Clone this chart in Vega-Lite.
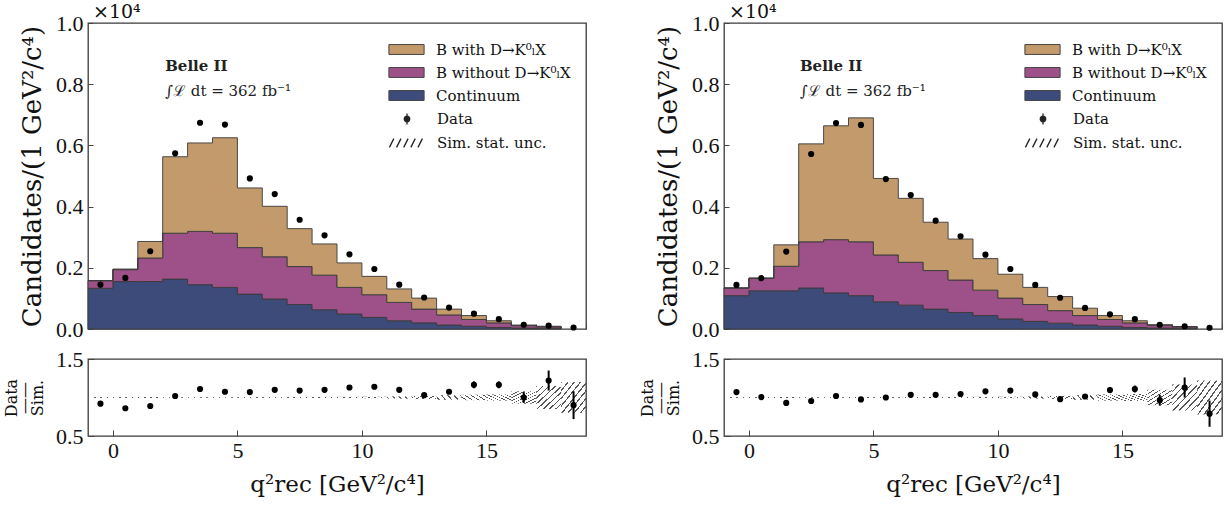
{
  "$schema": "https://vega.github.io/schema/vega-lite/v6.json",
  "padding": {"left": 2, "top": 2, "right": 0, "bottom": 0},
  "datasets": {
    "hist": [
      {"p":"L","lo":-1,"a":0.133,"b":0.025,"c":0.0},
      {"p":"L","lo":0,"a":0.155,"b":0.039,"c":0.002},
      {"p":"L","lo":1,"a":0.155,"b":0.077,"c":0.054},
      {"p":"L","lo":2,"a":0.163,"b":0.150,"c":0.250},
      {"p":"L","lo":3,"a":0.145,"b":0.174,"c":0.289},
      {"p":"L","lo":4,"a":0.136,"b":0.177,"c":0.312},
      {"p":"L","lo":5,"a":0.114,"b":0.152,"c":0.195},
      {"p":"L","lo":6,"a":0.098,"b":0.138,"c":0.165},
      {"p":"L","lo":7,"a":0.080,"b":0.124,"c":0.124},
      {"p":"L","lo":8,"a":0.063,"b":0.113,"c":0.102},
      {"p":"L","lo":9,"a":0.049,"b":0.087,"c":0.080},
      {"p":"L","lo":10,"a":0.038,"b":0.074,"c":0.060},
      {"p":"L","lo":11,"a":0.027,"b":0.060,"c":0.044},
      {"p":"L","lo":12,"a":0.020,"b":0.045,"c":0.036},
      {"p":"L","lo":13,"a":0.013,"b":0.033,"c":0.019},
      {"p":"L","lo":14,"a":0.009,"b":0.022,"c":0.013},
      {"p":"L","lo":15,"a":0.005,"b":0.015,"c":0.007},
      {"p":"L","lo":16,"a":0.003,"b":0.008,"c":0.002},
      {"p":"L","lo":17,"a":0.002,"b":0.005,"c":0.002},
      {"p":"L","lo":18,"a":0.001,"b":0.002,"c":0.001},
      {"p":"R","lo":-1,"a":0.109,"b":0.025,"c":0.0},
      {"p":"R","lo":0,"a":0.125,"b":0.041,"c":0.0},
      {"p":"R","lo":1,"a":0.125,"b":0.080,"c":0.070},
      {"p":"R","lo":2,"a":0.134,"b":0.151,"c":0.320},
      {"p":"R","lo":3,"a":0.118,"b":0.174,"c":0.372},
      {"p":"R","lo":4,"a":0.109,"b":0.176,"c":0.405},
      {"p":"R","lo":5,"a":0.089,"b":0.153,"c":0.250},
      {"p":"R","lo":6,"a":0.078,"b":0.140,"c":0.209},
      {"p":"R","lo":7,"a":0.065,"b":0.126,"c":0.158},
      {"p":"R","lo":8,"a":0.054,"b":0.106,"c":0.134},
      {"p":"R","lo":9,"a":0.044,"b":0.083,"c":0.103},
      {"p":"R","lo":10,"a":0.033,"b":0.068,"c":0.078},
      {"p":"R","lo":11,"a":0.025,"b":0.055,"c":0.056},
      {"p":"R","lo":12,"a":0.019,"b":0.041,"c":0.046},
      {"p":"R","lo":13,"a":0.013,"b":0.031,"c":0.024},
      {"p":"R","lo":14,"a":0.009,"b":0.022,"c":0.013},
      {"p":"R","lo":15,"a":0.005,"b":0.015,"c":0.007},
      {"p":"R","lo":16,"a":0.003,"b":0.009,"c":0.002},
      {"p":"R","lo":17,"a":0.002,"b":0.005,"c":0.001},
      {"p":"R","lo":18,"a":0.001,"b":0.002,"c":0.0}
    ],
    "pts": [
      {"p":"L","lo":-1,"hi":0,"c":-0.5,"v":0.145,"r":0.92,"re":0.012,"ul":0.994,"uh":1.006},
      {"p":"L","lo":0,"hi":1,"c":0.5,"v":0.167,"r":0.86,"re":0.012,"ul":0.994,"uh":1.006},
      {"p":"L","lo":1,"hi":2,"c":1.5,"v":0.254,"r":0.89,"re":0.01,"ul":0.994,"uh":1.006},
      {"p":"L","lo":2,"hi":3,"c":2.5,"v":0.574,"r":1.02,"re":0.008,"ul":0.995,"uh":1.005},
      {"p":"L","lo":3,"hi":4,"c":3.5,"v":0.674,"r":1.11,"re":0.008,"ul":0.995,"uh":1.005},
      {"p":"L","lo":4,"hi":5,"c":4.5,"v":0.668,"r":1.075,"re":0.008,"ul":0.995,"uh":1.005},
      {"p":"L","lo":5,"hi":6,"c":5.5,"v":0.492,"r":1.07,"re":0.008,"ul":0.994,"uh":1.006},
      {"p":"L","lo":6,"hi":7,"c":6.5,"v":0.441,"r":1.10,"re":0.008,"ul":0.994,"uh":1.006},
      {"p":"L","lo":7,"hi":8,"c":7.5,"v":0.357,"r":1.09,"re":0.009,"ul":0.993,"uh":1.007},
      {"p":"L","lo":8,"hi":9,"c":8.5,"v":0.306,"r":1.10,"re":0.01,"ul":0.993,"uh":1.007},
      {"p":"L","lo":9,"hi":10,"c":9.5,"v":0.244,"r":1.13,"re":0.012,"ul":0.992,"uh":1.008},
      {"p":"L","lo":10,"hi":11,"c":10.5,"v":0.196,"r":1.14,"re":0.014,"ul":0.99,"uh":1.01},
      {"p":"L","lo":11,"hi":12,"c":11.5,"v":0.145,"r":1.10,"re":0.016,"ul":0.986,"uh":1.014},
      {"p":"L","lo":12,"hi":13,"c":12.5,"v":0.103,"r":1.03,"re":0.02,"ul":0.98,"uh":1.02},
      {"p":"L","lo":13,"hi":14,"c":13.5,"v":0.070,"r":1.075,"re":0.025,"ul":0.97,"uh":1.03},
      {"p":"L","lo":14,"hi":15,"c":14.5,"v":0.050,"r":1.165,"re":0.045,"ul":0.965,"uh":1.035},
      {"p":"L","lo":15,"hi":16,"c":15.5,"v":0.032,"r":1.165,"re":0.045,"ul":0.96,"uh":1.04},
      {"p":"L","lo":16,"hi":17,"c":16.5,"v":0.014,"r":1.00,"re":0.07,"ul":0.92,"uh":1.08},
      {"p":"L","lo":17,"hi":18,"c":17.5,"v":0.011,"r":1.22,"re":0.13,"ul":0.85,"uh":1.15},
      {"p":"L","lo":18,"hi":19,"c":18.5,"v":0.005,"r":0.90,"re":0.18,"ul":0.80,"uh":1.20},
      {"p":"R","lo":-1,"hi":0,"c":-0.5,"v":0.144,"r":1.07,"re":0.012,"ul":0.994,"uh":1.006},
      {"p":"R","lo":0,"hi":1,"c":0.5,"v":0.166,"r":1.005,"re":0.012,"ul":0.994,"uh":1.006},
      {"p":"R","lo":1,"hi":2,"c":1.5,"v":0.253,"r":0.93,"re":0.01,"ul":0.994,"uh":1.006},
      {"p":"R","lo":2,"hi":3,"c":2.5,"v":0.572,"r":0.955,"re":0.008,"ul":0.995,"uh":1.005},
      {"p":"R","lo":3,"hi":4,"c":3.5,"v":0.673,"r":1.02,"re":0.008,"ul":0.995,"uh":1.005},
      {"p":"R","lo":4,"hi":5,"c":4.5,"v":0.667,"r":0.975,"re":0.008,"ul":0.995,"uh":1.005},
      {"p":"R","lo":5,"hi":6,"c":5.5,"v":0.490,"r":1.0,"re":0.008,"ul":0.994,"uh":1.006},
      {"p":"R","lo":6,"hi":7,"c":6.5,"v":0.438,"r":1.035,"re":0.008,"ul":0.994,"uh":1.006},
      {"p":"R","lo":7,"hi":8,"c":7.5,"v":0.354,"r":1.035,"re":0.009,"ul":0.993,"uh":1.007},
      {"p":"R","lo":8,"hi":9,"c":8.5,"v":0.303,"r":1.045,"re":0.01,"ul":0.993,"uh":1.007},
      {"p":"R","lo":9,"hi":10,"c":9.5,"v":0.243,"r":1.08,"re":0.012,"ul":0.992,"uh":1.008},
      {"p":"R","lo":10,"hi":11,"c":10.5,"v":0.196,"r":1.09,"re":0.014,"ul":0.99,"uh":1.01},
      {"p":"R","lo":11,"hi":12,"c":11.5,"v":0.144,"r":1.04,"re":0.016,"ul":0.986,"uh":1.014},
      {"p":"R","lo":12,"hi":13,"c":12.5,"v":0.102,"r":0.978,"re":0.02,"ul":0.98,"uh":1.02},
      {"p":"R","lo":13,"hi":14,"c":13.5,"v":0.069,"r":1.013,"re":0.025,"ul":0.97,"uh":1.03},
      {"p":"R","lo":14,"hi":15,"c":14.5,"v":0.048,"r":1.097,"re":0.04,"ul":0.96,"uh":1.04},
      {"p":"R","lo":15,"hi":16,"c":15.5,"v":0.032,"r":1.11,"re":0.045,"ul":0.955,"uh":1.045},
      {"p":"R","lo":16,"hi":17,"c":16.5,"v":0.014,"r":0.965,"re":0.07,"ul":0.90,"uh":1.10},
      {"p":"R","lo":17,"hi":18,"c":17.5,"v":0.009,"r":1.13,"re":0.13,"ul":0.83,"uh":1.17},
      {"p":"R","lo":18,"hi":19,"c":18.5,"v":0.004,"r":0.79,"re":0.17,"ul":0.78,"uh":1.22}
    ],
    "legA": [
      {"k":"B with D→K⁰ₗX"},
      {"k":"B without D→K⁰ₗX"},
      {"k":"Continuum"}
    ],
    "legB": [
      {"k":"Data"},
      {"k":"Sim. stat. unc.     "}
    ]
  },
  "resolve": {"scale": {"color": "independent", "fill": "independent", "shape": "independent", "stroke": "independent"}},
  "spacing": 50,
  "hconcat": [
    {
      "spacing": 6,
      "resolve": {"scale": {"color": "independent", "fill": "independent", "shape": "independent", "stroke": "independent"}},
      "vconcat": [
        {
          "width": 498, "height": 306,
          "layer": [
            {
              "data": {"name": "hist"},
              "transform": [
                {"filter": "datum.p == 'L'"},
                {"fold": ["a", "b", "c"], "as": ["comp", "n"]},
                {"stack": "n", "groupby": ["lo"], "sort": [{"field": "comp", "order": "ascending"}], "as": ["y0", "y1"]}
              ],
              "mark": {"type": "area", "interpolate": "step-after", "stroke": "#3a3a3a", "strokeWidth": 0.9},
              "encoding": {
                "x": {"field": "lo", "type": "quantitative", "scale": {"domain": [-1, 19], "nice": false, "zero": false},
                  "axis": {"values": [-1,0,1,2,3,4,5,6,7,8,9,10,11,12,13,14,15,16,17,18,19], "labels": false, "title": null, "tickSize": -5}},
                "y": {"field": "y1", "type": "quantitative", "scale": {"domain": [0, 1], "nice": false},
                  "axis": {"values": [0,0.05,0.1,0.15,0.2,0.25,0.3,0.35,0.4,0.45,0.5,0.55,0.6,0.65,0.7,0.75,0.8,0.85,0.9,0.95,1],
                    "labelExpr": "abs(datum.value*5 - round(datum.value*5)) < 0.001 ? format(datum.value, '.1f') : ''",
                    "tickSize": -5, "labelPadding": 10, "title": "Candidates/(1 GeV²/c⁴)", "titleFontSize": 26, "titlePadding": 10}},
                "y2": {"field": "y0"},
                "fill": {"field": "comp", "type": "nominal", "scale": {"domain": ["c", "b", "a"], "range": ["#C39A6B", "#9E5189", "#3D4B7A"]}, "legend": null}
              }
            },
            {
              "data": {"name": "pts"},
              "transform": [{"filter": "datum.p == 'L'"}],
              "mark": {"type": "point", "filled": true, "color": "black", "size": 38, "opacity": 1},
              "encoding": {
                "x": {"field": "c", "type": "quantitative"},
                "y": {"field": "v", "type": "quantitative"}
              }
            },
            {
              "data": {"values": [{"t": "×10⁴"}]},
              "mark": {"type": "text", "align": "left", "baseline": "bottom", "dx": 5, "dy": -1, "font": "DejaVu Serif", "fontSize": 19, "color": "#111"},
              "encoding": {"x": {"datum": -1, "type": "quantitative"}, "y": {"datum": 1, "type": "quantitative"}, "text": {"field": "t"}}
            },
            {
              "data": {"values": [{"t": "Belle II"}]},
              "mark": {"type": "text", "align": "left", "baseline": "middle", "font": "DejaVu Serif", "fontWeight": "bold", "fontSize": 15, "color": "#222"},
              "encoding": {"x": {"datum": 2.1, "type": "quantitative"}, "y": {"datum": 0.86, "type": "quantitative"}, "text": {"field": "t"}}
            },
            {
              "data": {"values": [{"t": "∫ℒ dt = 362 fb⁻¹"}]},
              "mark": {"type": "text", "align": "left", "baseline": "middle", "font": "DejaVu Serif", "fontSize": 15, "color": "#222"},
              "encoding": {"x": {"datum": 2.1, "type": "quantitative"}, "y": {"datum": 0.778, "type": "quantitative"}, "text": {"field": "t"}}
            },
            {
              "data": {"name": "legA"},
              "mark": {"type": "point", "filled": true, "opacity": 0},
              "encoding": {
                "color": {"field": "k", "type": "nominal", "scale": {"domain": ["B with D→K⁰ₗX", "B without D→K⁰ₗX", "Continuum"], "range": ["#C39A6B", "#9E5189", "#3D4B7A"]},
                  "legend": {"orient": "top-right", "offset": 15, "title": null, "symbolSize": 484, "symbolStrokeWidth": 1, "symbolStrokeColor": "#444444",
                    "symbolType": "M-1.6,-0.45H1.6V0.45H-1.6Z",
                    "labelFont": "DejaVu Serif", "labelFontSize": 15, "labelColor": "#111", "labelOffset": 18, "rowPadding": 3, "padding": 0, "labelLimit": 300}}
              }
            },
            {
              "data": {"name": "legB"},
              "mark": {"type": "point", "filled": false, "opacity": 0, "color": "#333333", "strokeWidth": 1.3},
              "encoding": {
                "shape": {"field": "k", "type": "nominal", "scale": {"domain": ["Data", "Sim. stat. unc.     "], "range": ["M0,-0.5V0.5M-0.25,0A0.25,0.25,0,1,0,0.25,0A0.25,0.25,0,1,0,-0.25,0M-0.16,0A0.16,0.16,0,1,0,0.16,0A0.16,0.16,0,1,0,-0.16,0M-0.07,0A0.07,0.07,0,1,0,0.07,0A0.07,0.07,0,1,0,-0.07,0", "M-1.6,0.4L-1.2,-0.4M-0.95,0.4L-0.55,-0.4M-0.3,0.4L0.1,-0.4M0.35,0.4L0.75,-0.4M1.0,0.4L1.4,-0.4"]},
                  "legend": {"orient": "top-right", "offset": 15, "title": null, "symbolSize": 484, "symbolStrokeWidth": 1.3, "symbolStrokeColor": "#222222",
                    "labelFont": "DejaVu Serif", "labelFontSize": 15, "labelColor": "#111", "labelOffset": 18, "rowPadding": 3, "padding": 0, "labelLimit": 300}}
              }
            }
          ]
        },
        {
          "width": 498, "height": 77,
          "layer": [
            {
              "data": {"name": "pts"},
              "transform": [{"filter": "datum.p == 'L'"}],
              "mark": {"type": "rect", "strokeWidth": 0, "fill": {"gradient": "linear", "x1": 0, "y1": 0, "x2": 1, "y2": 1, "stops": [
                {"offset": 0, "color": "#555555"}, {"offset": 0.03, "color": "#555555"}, {"offset": 0.03, "color": "rgba(0,0,0,0)"}, {"offset": 0.125, "color": "rgba(0,0,0,0)"},
                {"offset": 0.125, "color": "#555555"}, {"offset": 0.155, "color": "#555555"}, {"offset": 0.155, "color": "rgba(0,0,0,0)"}, {"offset": 0.25, "color": "rgba(0,0,0,0)"},
                {"offset": 0.25, "color": "#555555"}, {"offset": 0.28, "color": "#555555"}, {"offset": 0.28, "color": "rgba(0,0,0,0)"}, {"offset": 0.375, "color": "rgba(0,0,0,0)"},
                {"offset": 0.375, "color": "#555555"}, {"offset": 0.405, "color": "#555555"}, {"offset": 0.405, "color": "rgba(0,0,0,0)"}, {"offset": 0.5, "color": "rgba(0,0,0,0)"},
                {"offset": 0.5, "color": "#555555"}, {"offset": 0.53, "color": "#555555"}, {"offset": 0.53, "color": "rgba(0,0,0,0)"}, {"offset": 0.625, "color": "rgba(0,0,0,0)"},
                {"offset": 0.625, "color": "#555555"}, {"offset": 0.655, "color": "#555555"}, {"offset": 0.655, "color": "rgba(0,0,0,0)"}, {"offset": 0.75, "color": "rgba(0,0,0,0)"},
                {"offset": 0.75, "color": "#555555"}, {"offset": 0.78, "color": "#555555"}, {"offset": 0.78, "color": "rgba(0,0,0,0)"}, {"offset": 0.875, "color": "rgba(0,0,0,0)"},
                {"offset": 0.875, "color": "#555555"}, {"offset": 0.905, "color": "#555555"}, {"offset": 0.905, "color": "rgba(0,0,0,0)"}, {"offset": 1, "color": "rgba(0,0,0,0)"}]}},
              "encoding": {
                "x": {"field": "lo", "type": "quantitative", "scale": {"domain": [-1, 19], "nice": false, "zero": false},
                  "axis": {"values": [0, 5, 10, 15], "format": "d",
                    "tickSize": -6, "labelPadding": 10, "title": "q²rec  [GeV²/c⁴]", "titleFontSize": 23, "titlePadding": 12}},
                "x2": {"field": "hi"},
                "y": {"field": "ul", "type": "quantitative", "scale": {"domain": [0.5, 1.5], "nice": false, "zero": false},
                  "axis": {"values": [0.5, 1.0, 1.5], "format": ".1f",
                    "tickSize": -6, "labelPadding": 11, "title": ["Data", "——", "Sim."], "titleFontSize": 16, "titleLineHeight": 13, "titlePadding": 10}},
                "y2": {"field": "uh"}
              }
            },
            {
              "mark": {"type": "rule", "strokeDash": [7, 4], "color": "#222222", "strokeWidth": 1.6},
              "encoding": {"y": {"datum": 1, "type": "quantitative"}}
            },
            {
              "data": {"name": "pts"},
              "transform": [{"filter": "datum.p == 'L'"}],
              "mark": {"type": "errorbar", "color": "black", "thickness": 2},
              "encoding": {
                "x": {"field": "c", "type": "quantitative", "title": "q²rec  [GeV²/c⁴]"},
                "y": {"field": "r", "type": "quantitative", "title": ["Data", "——", "Sim."]},
                "yError": {"field": "re"}
              }
            },
            {
              "data": {"name": "pts"},
              "transform": [{"filter": "datum.p == 'L'"}],
              "mark": {"type": "point", "filled": true, "color": "black", "size": 38, "opacity": 1},
              "encoding": {
                "x": {"field": "c", "type": "quantitative"},
                "y": {"field": "r", "type": "quantitative"}
              }
            }
          ]
        }
      ]
    },
    {
      "spacing": 6,
      "resolve": {"scale": {"color": "independent", "fill": "independent", "shape": "independent", "stroke": "independent"}},
      "vconcat": [
        {
          "width": 498, "height": 306,
          "layer": [
            {
              "data": {"name": "hist"},
              "transform": [
                {"filter": "datum.p == 'R'"},
                {"fold": ["a", "b", "c"], "as": ["comp", "n"]},
                {"stack": "n", "groupby": ["lo"], "sort": [{"field": "comp", "order": "ascending"}], "as": ["y0", "y1"]}
              ],
              "mark": {"type": "area", "interpolate": "step-after", "stroke": "#3a3a3a", "strokeWidth": 0.9},
              "encoding": {
                "x": {"field": "lo", "type": "quantitative", "scale": {"domain": [-1, 19], "nice": false, "zero": false},
                  "axis": {"values": [-1,0,1,2,3,4,5,6,7,8,9,10,11,12,13,14,15,16,17,18,19], "labels": false, "title": null, "tickSize": -5}},
                "y": {"field": "y1", "type": "quantitative", "scale": {"domain": [0, 1], "nice": false},
                  "axis": {"values": [0,0.05,0.1,0.15,0.2,0.25,0.3,0.35,0.4,0.45,0.5,0.55,0.6,0.65,0.7,0.75,0.8,0.85,0.9,0.95,1],
                    "labelExpr": "abs(datum.value*5 - round(datum.value*5)) < 0.001 ? format(datum.value, '.1f') : ''",
                    "tickSize": -5, "labelPadding": 10, "title": "Candidates/(1 GeV²/c⁴)", "titleFontSize": 26, "titlePadding": 10}},
                "y2": {"field": "y0"},
                "fill": {"field": "comp", "type": "nominal", "scale": {"domain": ["c", "b", "a"], "range": ["#C39A6B", "#9E5189", "#3D4B7A"]}, "legend": null}
              }
            },
            {
              "data": {"name": "pts"},
              "transform": [{"filter": "datum.p == 'R'"}],
              "mark": {"type": "point", "filled": true, "color": "black", "size": 38, "opacity": 1},
              "encoding": {
                "x": {"field": "c", "type": "quantitative"},
                "y": {"field": "v", "type": "quantitative"}
              }
            },
            {
              "data": {"values": [{"t": "×10⁴"}]},
              "mark": {"type": "text", "align": "left", "baseline": "bottom", "dx": 5, "dy": -1, "font": "DejaVu Serif", "fontSize": 19, "color": "#111"},
              "encoding": {"x": {"datum": -1, "type": "quantitative"}, "y": {"datum": 1, "type": "quantitative"}, "text": {"field": "t"}}
            },
            {
              "data": {"values": [{"t": "Belle II"}]},
              "mark": {"type": "text", "align": "left", "baseline": "middle", "font": "DejaVu Serif", "fontWeight": "bold", "fontSize": 15, "color": "#222"},
              "encoding": {"x": {"datum": 2.05, "type": "quantitative"}, "y": {"datum": 0.86, "type": "quantitative"}, "text": {"field": "t"}}
            },
            {
              "data": {"values": [{"t": "∫ℒ dt = 362 fb⁻¹"}]},
              "mark": {"type": "text", "align": "left", "baseline": "middle", "font": "DejaVu Serif", "fontSize": 15, "color": "#222"},
              "encoding": {"x": {"datum": 2.05, "type": "quantitative"}, "y": {"datum": 0.778, "type": "quantitative"}, "text": {"field": "t"}}
            },
            {
              "data": {"name": "legA"},
              "mark": {"type": "point", "filled": true, "opacity": 0},
              "encoding": {
                "color": {"field": "k", "type": "nominal", "scale": {"domain": ["B with D→K⁰ₗX", "B without D→K⁰ₗX", "Continuum"], "range": ["#C39A6B", "#9E5189", "#3D4B7A"]},
                  "legend": {"orient": "top-right", "offset": 15, "title": null, "symbolSize": 484, "symbolStrokeWidth": 1, "symbolStrokeColor": "#444444",
                    "symbolType": "M-1.6,-0.45H1.6V0.45H-1.6Z",
                    "labelFont": "DejaVu Serif", "labelFontSize": 15, "labelColor": "#111", "labelOffset": 18, "rowPadding": 3, "padding": 0, "labelLimit": 300}}
              }
            },
            {
              "data": {"name": "legB"},
              "mark": {"type": "point", "filled": false, "opacity": 0, "color": "#333333", "strokeWidth": 1.3},
              "encoding": {
                "shape": {"field": "k", "type": "nominal", "scale": {"domain": ["Data", "Sim. stat. unc.     "], "range": ["M0,-0.5V0.5M-0.25,0A0.25,0.25,0,1,0,0.25,0A0.25,0.25,0,1,0,-0.25,0M-0.16,0A0.16,0.16,0,1,0,0.16,0A0.16,0.16,0,1,0,-0.16,0M-0.07,0A0.07,0.07,0,1,0,0.07,0A0.07,0.07,0,1,0,-0.07,0", "M-1.6,0.4L-1.2,-0.4M-0.95,0.4L-0.55,-0.4M-0.3,0.4L0.1,-0.4M0.35,0.4L0.75,-0.4M1.0,0.4L1.4,-0.4"]},
                  "legend": {"orient": "top-right", "offset": 15, "title": null, "symbolSize": 484, "symbolStrokeWidth": 1.3, "symbolStrokeColor": "#222222",
                    "labelFont": "DejaVu Serif", "labelFontSize": 15, "labelColor": "#111", "labelOffset": 18, "rowPadding": 3, "padding": 0, "labelLimit": 300}}
              }
            }
          ]
        },
        {
          "width": 498, "height": 77,
          "layer": [
            {
              "data": {"name": "pts"},
              "transform": [{"filter": "datum.p == 'R'"}],
              "mark": {"type": "rect", "strokeWidth": 0, "fill": {"gradient": "linear", "x1": 0, "y1": 0, "x2": 1, "y2": 1, "stops": [
                {"offset": 0, "color": "#555555"}, {"offset": 0.03, "color": "#555555"}, {"offset": 0.03, "color": "rgba(0,0,0,0)"}, {"offset": 0.125, "color": "rgba(0,0,0,0)"},
                {"offset": 0.125, "color": "#555555"}, {"offset": 0.155, "color": "#555555"}, {"offset": 0.155, "color": "rgba(0,0,0,0)"}, {"offset": 0.25, "color": "rgba(0,0,0,0)"},
                {"offset": 0.25, "color": "#555555"}, {"offset": 0.28, "color": "#555555"}, {"offset": 0.28, "color": "rgba(0,0,0,0)"}, {"offset": 0.375, "color": "rgba(0,0,0,0)"},
                {"offset": 0.375, "color": "#555555"}, {"offset": 0.405, "color": "#555555"}, {"offset": 0.405, "color": "rgba(0,0,0,0)"}, {"offset": 0.5, "color": "rgba(0,0,0,0)"},
                {"offset": 0.5, "color": "#555555"}, {"offset": 0.53, "color": "#555555"}, {"offset": 0.53, "color": "rgba(0,0,0,0)"}, {"offset": 0.625, "color": "rgba(0,0,0,0)"},
                {"offset": 0.625, "color": "#555555"}, {"offset": 0.655, "color": "#555555"}, {"offset": 0.655, "color": "rgba(0,0,0,0)"}, {"offset": 0.75, "color": "rgba(0,0,0,0)"},
                {"offset": 0.75, "color": "#555555"}, {"offset": 0.78, "color": "#555555"}, {"offset": 0.78, "color": "rgba(0,0,0,0)"}, {"offset": 0.875, "color": "rgba(0,0,0,0)"},
                {"offset": 0.875, "color": "#555555"}, {"offset": 0.905, "color": "#555555"}, {"offset": 0.905, "color": "rgba(0,0,0,0)"}, {"offset": 1, "color": "rgba(0,0,0,0)"}]}},
              "encoding": {
                "x": {"field": "lo", "type": "quantitative", "scale": {"domain": [-1, 19], "nice": false, "zero": false},
                  "axis": {"values": [0, 5, 10, 15], "format": "d",
                    "tickSize": -6, "labelPadding": 10, "title": "q²rec  [GeV²/c⁴]", "titleFontSize": 23, "titlePadding": 12}},
                "x2": {"field": "hi"},
                "y": {"field": "ul", "type": "quantitative", "scale": {"domain": [0.5, 1.5], "nice": false, "zero": false},
                  "axis": {"values": [0.5, 1.0, 1.5], "format": ".1f",
                    "tickSize": -6, "labelPadding": 11, "title": ["Data", "——", "Sim."], "titleFontSize": 16, "titleLineHeight": 13, "titlePadding": 10}},
                "y2": {"field": "uh"}
              }
            },
            {
              "mark": {"type": "rule", "strokeDash": [7, 4], "color": "#222222", "strokeWidth": 1.6},
              "encoding": {"y": {"datum": 1, "type": "quantitative"}}
            },
            {
              "data": {"name": "pts"},
              "transform": [{"filter": "datum.p == 'R'"}],
              "mark": {"type": "errorbar", "color": "black", "thickness": 2},
              "encoding": {
                "x": {"field": "c", "type": "quantitative", "title": "q²rec  [GeV²/c⁴]"},
                "y": {"field": "r", "type": "quantitative", "title": ["Data", "——", "Sim."]},
                "yError": {"field": "re"}
              }
            },
            {
              "data": {"name": "pts"},
              "transform": [{"filter": "datum.p == 'R'"}],
              "mark": {"type": "point", "filled": true, "color": "black", "size": 38, "opacity": 1},
              "encoding": {
                "x": {"field": "c", "type": "quantitative"},
                "y": {"field": "r", "type": "quantitative"}
              }
            }
          ]
        }
      ]
    }
  ],
  "config": {
    "view": {"stroke": "#3a3a3a", "strokeWidth": 1.3},
    "axis": {"grid": false, "domain": false, "labelOverlap": false, "labelBound": false, "labelFont": "Liberation Serif", "labelFontSize": 22, "labelColor": "#111", "titleFont": "DejaVu Serif", "titleFontWeight": "normal", "titleColor": "#111", "tickColor": "#444444", "tickWidth": 1},
    "legend": {"layout": {"top-right": {"direction": "vertical", "margin": 3, "anchor": "start"}}},
    "font": "DejaVu Serif"
  }
}
